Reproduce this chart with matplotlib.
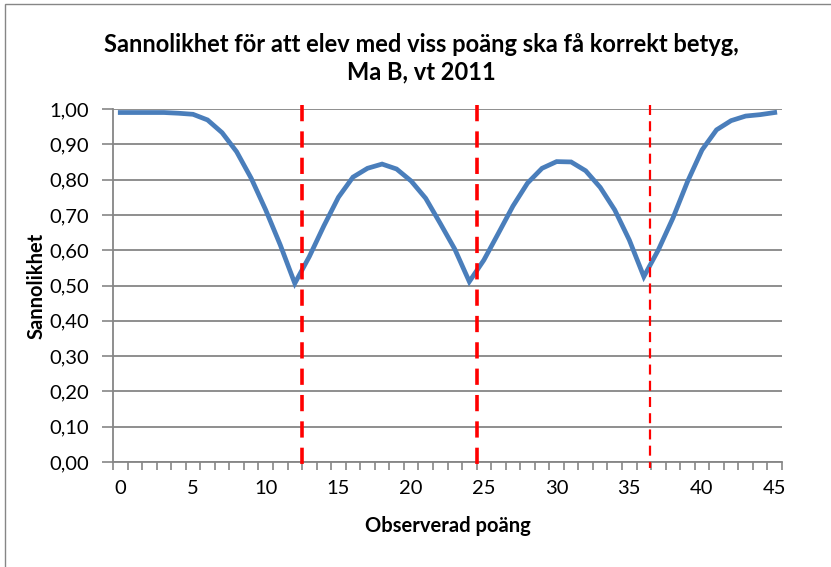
import matplotlib
matplotlib.use("Agg")
import matplotlib.pyplot as plt
from matplotlib.patches import Rectangle
import numpy as np

plt.rcParams["font.family"] = ["Lato", "DejaVu Sans"]

# Observed score 0..45 and probability of correct grade
points = list(range(46))
prob = [0.99, 0.99, 0.99, 0.99, 0.988, 0.985, 0.969, 0.933, 0.879, 0.804,
        0.714, 0.615, 0.506, 0.582, 0.669, 0.750, 0.807, 0.832, 0.844, 0.830,
        0.796, 0.747, 0.676, 0.603, 0.511, 0.572, 0.648, 0.725, 0.790, 0.832,
        0.851, 0.850, 0.825, 0.778, 0.714, 0.629, 0.525, 0.601, 0.691, 0.794,
        0.884, 0.941, 0.967, 0.980, 0.984, 0.990]

# Grade limits (dashed red lines)
limits = [12.5, 24.5, 36.4]
limit_widths = [2.6, 2.6, 1.6]
limit_dashes = [(4.5, 2.8), (4.5, 2.8), (4.5, 2.8)]

title = "Sannolikhet för att elev med viss poäng ska få korrekt betyg,\nMa B, vt 2011"
xlabel = "Observerad poäng"
ylabel = "Sannolikhet"
yticks = [i / 10 for i in range(11)]
ytick_labels = [f"{v:.2f}".replace(".", ",") for v in yticks]
xticks = list(range(0, 46, 5))

W, H = 831, 567
grey = "#868686"
fig = plt.figure(figsize=(W / 100, H / 100), dpi=100)

# chart border (left/top visible)
fig.patches.append(Rectangle((5 / W, -0.02), 1.1, 1 - 4 / H + 0.02,
                             transform=fig.transFigure, fill=False,
                             edgecolor=grey, linewidth=1.0))

ax = fig.add_axes([113 / W, (H - 462) / H, (782 - 113) / W, (462 - 109) / H])
ax.set_xlim(-0.5, 45.5)
ax.set_ylim(0, 1)

ax.set_yticks(yticks)
ax.set_yticklabels(ytick_labels, fontsize=14.5)
ax.grid(axis="y", color=grey, linewidth=1.3)
ax.set_axisbelow(True)

ax.set_xticks(xticks)
ax.set_xticklabels([str(x) for x in xticks], fontsize=14.5)
ax.set_xticks(np.arange(-0.5, 46, 1.0), minor=True)
ax.tick_params(axis="x", which="major", length=0, pad=13)
ax.tick_params(axis="x", which="minor", length=6, color=grey, width=1.2)
ax.tick_params(axis="y", length=8, color=grey, width=1.2, pad=9)

for side in ["top", "right"]:
    ax.spines[side].set_visible(False)
for side in ["left", "bottom"]:
    ax.spines[side].set_color(grey)
    ax.spines[side].set_linewidth(1.3)

ax.plot(points, prob, color="#4A7EBB", linewidth=3.4, solid_joinstyle="miter",
        zorder=3)

for xv, lw, ds in zip(limits, limit_widths, limit_dashes):
    ax.plot([xv, xv], [1.01, -0.018], color="#FF0000", linewidth=lw,
            dashes=ds, clip_on=False, zorder=4)

ax.set_xlabel(xlabel, fontsize=14.5, fontweight="bold", labelpad=14)
ax.set_ylabel(ylabel, fontsize=14.5, fontweight="bold", labelpad=2)
fig.text(421 / W, 1 - 58 / H, title, ha="center", va="center",
         fontsize=17, fontweight="bold", linespacing=1.25)

fig.savefig("out.png", dpi=100)
